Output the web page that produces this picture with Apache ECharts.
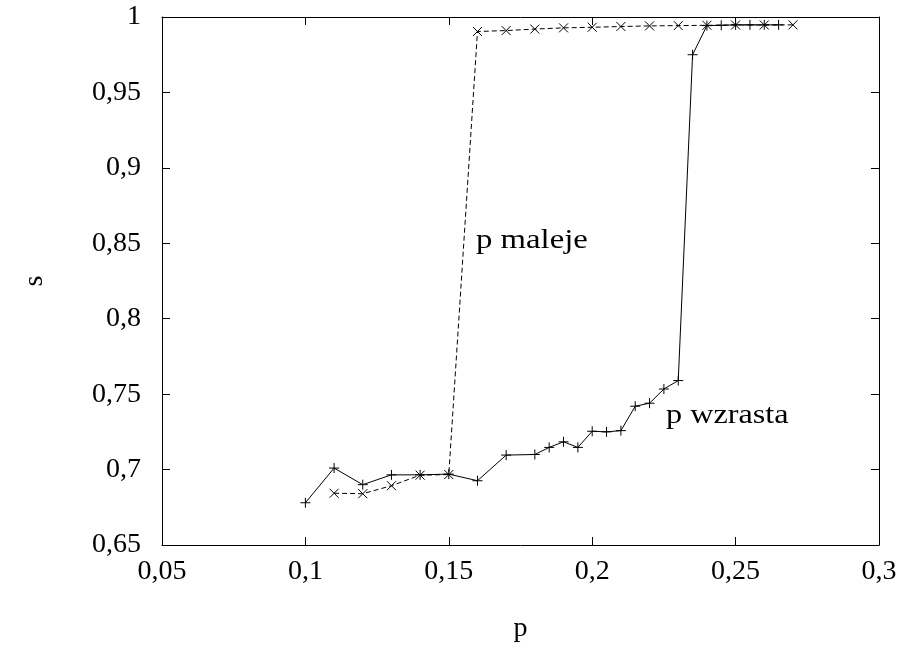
<!DOCTYPE html>
<html>
<head>
<meta charset="utf-8">
<script src="https://cdn.jsdelivr.net/npm/echarts@6/dist/echarts.min.js"></script>
<style>html,body{margin:0;padding:0;background:#fff}#c{width:907px;height:648px}</style>
</head>
<body>
<div id="c"></div>
<script>
// p increasing (solid, "+")
const upP = [0.1,0.11,0.12,0.13,0.14,0.15,0.16,0.17,0.18,0.185,0.19,0.195,0.2,0.205,0.21,0.215,0.22,0.225,0.23,0.235,0.24,0.245,0.25,0.255,0.26,0.265];
const upS = [0.678,0.701,0.690,0.6965,0.6965,0.697,0.6926,0.7096,0.710,0.7147,0.7184,0.7147,0.7254,0.725,0.7258,0.742,0.744,0.7534,0.759,0.975,0.9943,0.9945,0.9948,0.9948,0.9948,0.9948];
// p decreasing (dashed, "x")
const downP = [0.11,0.12,0.13,0.14,0.15,0.16,0.17,0.18,0.19,0.2,0.21,0.22,0.23,0.24,0.25,0.26,0.27];
const downS = [0.6843,0.684,0.6893,0.6963,0.6967,0.9904,0.991,0.992,0.9928,0.9932,0.9937,0.9941,0.9943,0.9945,0.9947,0.9947,0.9948];
const xLabel = 'p', yLabel = 's';
const labelDown = 'p maleje', labelUp = 'p wzrasta';

const FONT = 'Liberation Serif';
const FS = 28;
const fmt = v => String(Math.round(v * 100) / 100).replace('.', ',');
const plus = 'path://M0,5L10,5M5,0L5,10';
const cross = 'path://M0,0L10,10M0,10L10,0';

const chart = echarts.init(document.getElementById('c'));
const axisCommon = {
  type: 'value',
  axisLine: {show: true, lineStyle: {color: '#000', width: 1}},
  axisTick: {show: true, inside: true, length: 8, lineStyle: {color: '#000'}},
  splitLine: {show: false}
};
chart.setOption({
  animation: false,
  grid: {left: 162, right: 28, top: 17, bottom: 97, containLabel: false},
  xAxis: [
    Object.assign({}, axisCommon, {min: 0.05, max: 0.3, interval: 0.05, position: 'bottom',
      name: xLabel, nameLocation: 'middle', nameGap: 70,
      nameTextStyle: {fontFamily: FONT, fontSize: FS, color: '#000'},
      axisLabel: {formatter: fmt, margin: 13, fontFamily: FONT, fontSize: FS, color: '#000'}}),
    Object.assign({}, axisCommon, {min: 0.05, max: 0.3, interval: 0.05, position: 'top', axisLabel: {show: false}})
  ],
  yAxis: [
    Object.assign({}, axisCommon, {min: 0.65, max: 1, interval: 0.05, position: 'left',
      name: yLabel, nameLocation: 'middle', nameGap: 113, nameRotate: 90,
      nameTextStyle: {fontFamily: FONT, fontSize: FS, color: '#000'},
      axisLabel: {formatter: fmt, margin: 21, fontFamily: FONT, fontSize: FS, color: '#000'}}),
    Object.assign({}, axisCommon, {min: 0.65, max: 1, interval: 0.05, position: 'right', axisLabel: {show: false}})
  ],
  series: [
    {
      type: 'line', data: upP.map((p, i) => [p, upS[i]]),
      symbol: plus, symbolSize: 10, showSymbol: true,
      lineStyle: {color: '#000', width: 1},
      itemStyle: {color: 'none', borderColor: '#000', borderWidth: 1},
      z: 3
    },
    {
      type: 'line', data: downP.map((p, i) => [p, downS[i]]),
      symbol: cross, symbolSize: 9, showSymbol: true,
      lineStyle: {color: '#000', width: 1, type: [5, 3]},
      itemStyle: {color: 'none', borderColor: '#000', borderWidth: 1},
      z: 2
    }
  ],
  graphic: [
    {type: 'text', x: 476, y: 255, scaleX: 1.17, style: {text: labelDown, font: FS + 'px "' + FONT + '"', fill: '#000', textVerticalAlign: 'bottom'}},
    {type: 'text', x: 666, y: 430, scaleX: 1.15, style: {text: labelUp, font: FS + 'px "' + FONT + '"', fill: '#000', textVerticalAlign: 'bottom'}}
  ]
});
</script>
</body>
</html>
